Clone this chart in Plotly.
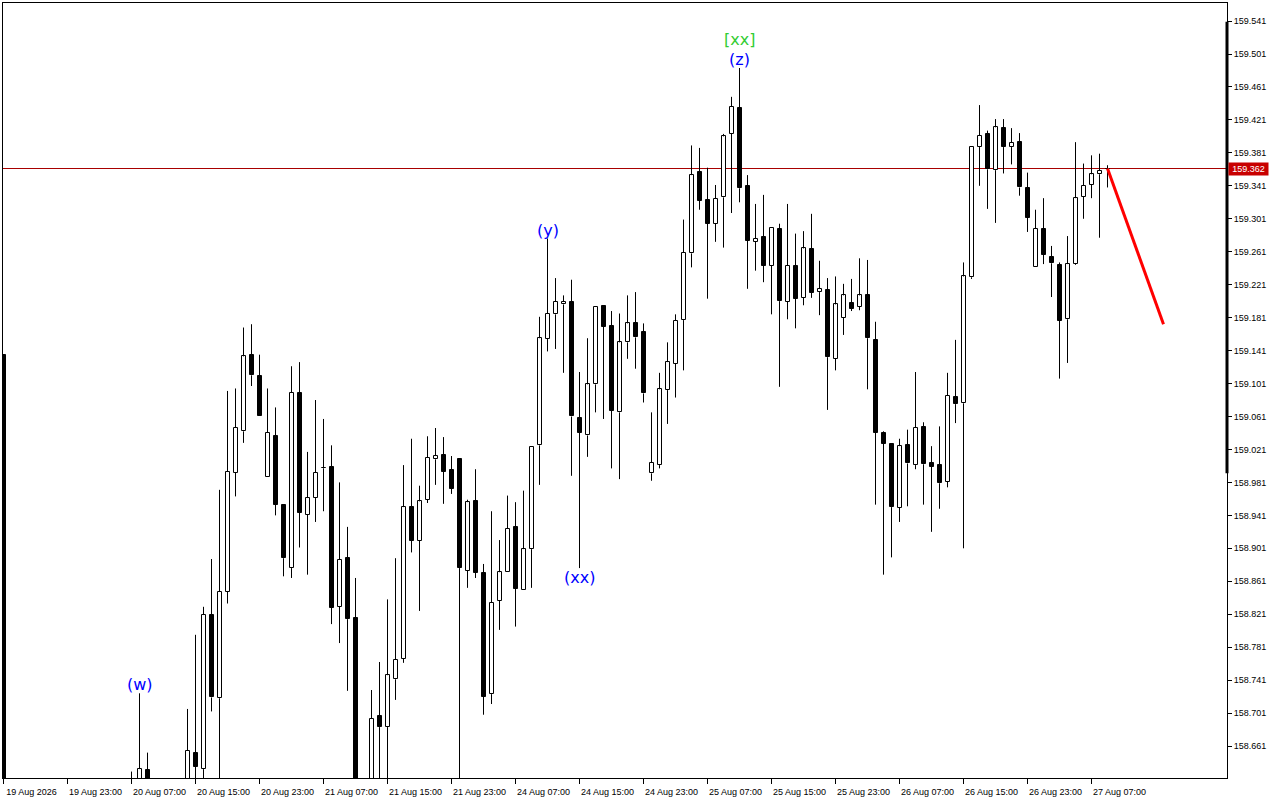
import plotly.graph_objects as go

# ---------------- data (H1 bars, index 0 = 19 Aug 15:00) ----------------
open_ = [159.136, 158.580, 158.550, 158.570, 158.560, 158.530, 158.550, 158.580, 158.560, 158.540,
         158.560, 158.590, 158.570, 158.580, 158.600, 158.590, 158.600, 158.610, 158.632, 158.605,
         158.590, 158.600, 158.595, 158.605, 158.653, 158.633, 158.820, 158.719, 158.848, 158.993,
         159.043, 159.136, 159.110, 158.987, 159.037, 158.954, 158.877, 159.089, 158.942, 158.962,
         158.998, 159.000, 158.830, 158.889, 158.816, 158.600, 158.590, 158.697, 158.684, 158.742,
         158.767, 158.951, 158.910, 158.960, 159.009, 159.014, 158.996, 159.009, 158.874, 158.958,
         158.871, 158.724, 158.837, 158.872, 158.927, 158.850, 158.900, 159.026, 159.155, 159.185,
         159.197, 159.200, 159.059, 159.038, 159.100, 159.195, 159.171, 159.066, 159.151, 159.175,
         159.164, 158.992, 159.002, 159.093, 159.125, 159.178, 159.259, 159.358, 159.324, 159.295,
         159.327, 159.404, 159.435, 159.341, 159.273, 159.279, 159.244, 159.289, 159.200, 159.244,
         159.205, 159.264, 159.212, 159.214, 159.131, 159.181, 159.199, 159.194, 159.208, 159.154,
         159.041, 159.028, 158.950, 159.027, 159.002, 159.048, 159.004, 159.002, 158.982, 159.085,
         159.077, 159.230, 159.388, 159.404, 159.360, 159.411, 159.388, 159.394, 159.338, 159.243,
         159.288, 159.254, 159.245, 159.179, 159.246, 159.328, 159.342, 159.355, 159.361]
high = [159.136, 158.600, 158.590, 158.600, 158.580, 158.570, 158.590, 158.600, 158.580, 158.570,
        158.600, 158.610, 158.600, 158.610, 158.615, 158.610, 158.630, 158.725, 158.653, 158.615,
        158.610, 158.615, 158.615, 158.706, 158.796, 158.830, 158.888, 158.972, 159.092, 159.095,
        159.169, 159.173, 159.136, 159.095, 159.072, 158.954, 159.122, 159.127, 159.018, 159.081,
        159.058, 159.026, 158.981, 158.927, 158.865, 158.615, 158.729, 158.763, 158.839, 158.889,
        159.002, 159.034, 158.977, 159.037, 159.047, 159.036, 159.013, 159.009, 158.960, 158.997,
        158.882, 158.946, 158.911, 158.965, 158.957, 158.971, 159.024, 159.182, 159.277, 159.229,
        159.208, 159.227, 159.115, 159.156, 159.194, 159.195, 159.189, 159.186, 159.208, 159.212,
        159.174, 159.066, 159.114, 159.151, 159.185, 159.300, 159.390, 159.387, 159.363, 159.342,
        159.404, 159.449, 159.484, 159.354, 159.319, 159.330, 159.291, 159.295, 159.319, 159.283,
        159.286, 159.307, 159.250, 159.229, 159.231, 159.222, 159.228, 159.253, 159.251, 159.176,
        159.043, 159.028, 159.034, 159.045, 159.115, 159.054, 159.025, 159.049, 159.114, 159.154,
        159.248, 159.388, 159.439, 159.408, 159.422, 159.422, 159.411, 159.405, 159.357, 159.312,
        159.326, 159.268, 159.248, 159.280, 159.394, 159.368, 159.378, 159.380, 159.366]
low = [158.550, 158.520, 158.530, 158.540, 158.510, 158.500, 158.540, 158.550, 158.520, 158.520,
       158.550, 158.560, 158.550, 158.560, 158.580, 158.570, 158.580, 158.600, 158.590, 158.580,
       158.570, 158.580, 158.585, 158.595, 158.600, 158.600, 158.703, 158.610, 158.834, 158.964,
       159.029, 159.098, 159.061, 158.987, 158.941, 158.867, 158.865, 158.902, 158.869, 158.933,
       158.946, 158.809, 158.786, 158.728, 158.590, 158.570, 158.580, 158.610, 158.615, 158.717,
       158.762, 158.896, 158.825, 158.956, 158.978, 158.955, 158.967, 158.610, 158.853, 158.865,
       158.699, 158.712, 158.802, 158.872, 158.806, 158.850, 158.853, 158.978, 159.140, 159.143,
       159.114, 158.989, 158.877, 159.012, 159.066, 159.058, 158.998, 158.985, 159.131, 159.119,
       159.078, 158.983, 158.998, 159.052, 159.084, 159.117, 159.242, 159.312, 159.204, 159.273,
       159.266, 159.308, 159.321, 159.216, 159.238, 159.224, 159.185, 159.097, 159.179, 159.168,
       159.196, 159.205, 159.184, 159.069, 159.117, 159.160, 159.189, 159.190, 159.094, 158.954,
       158.869, 158.890, 158.933, 158.952, 158.997, 158.954, 158.921, 158.949, 158.975, 159.053,
       158.901, 159.228, 159.341, 159.313, 159.296, 159.356, 159.367, 159.329, 159.285, 159.243,
       159.246, 159.206, 159.107, 159.126, 159.245, 159.301, 159.326, 159.278, 159.339]
close = [158.580, 158.550, 158.570, 158.560, 158.530, 158.550, 158.580, 158.560, 158.540, 158.560,
         158.590, 158.570, 158.580, 158.600, 158.590, 158.600, 158.610, 158.633, 158.605, 158.590,
         158.600, 158.595, 158.605, 158.655, 158.636, 158.820, 158.720, 158.848, 158.994, 159.047,
         159.134, 159.111, 159.061, 159.041, 158.954, 158.889, 159.090, 158.944, 158.962, 158.993,
         158.998, 158.829, 158.887, 158.815, 158.600, 158.590, 158.694, 158.684, 158.747, 158.766,
         158.951, 158.910, 158.958, 159.011, 159.013, 158.994, 158.973, 158.877, 158.957, 158.871,
         158.721, 158.835, 158.872, 158.925, 158.852, 158.900, 159.024, 159.156, 159.186, 159.200,
         159.200, 159.061, 159.041, 159.100, 159.194, 159.170, 159.068, 159.151, 159.174, 159.157,
         159.089, 159.005, 159.094, 159.127, 159.177, 159.260, 159.354, 159.323, 159.295, 159.325,
         159.401, 159.437, 159.338, 159.274, 159.277, 159.244, 159.290, 159.201, 159.244, 159.204,
         159.265, 159.211, 159.216, 159.133, 159.197, 159.208, 159.192, 159.208, 159.156, 159.041,
         159.028, 158.951, 159.025, 159.004, 159.047, 159.003, 159.000, 158.980, 159.086, 159.076,
         159.231, 159.388, 159.402, 159.361, 159.412, 159.388, 159.393, 159.339, 159.302, 159.289,
         159.257, 159.247, 159.177, 159.246, 159.326, 159.341, 159.355, 159.359, 159.362]

tick_pos = [0, 8, 16, 24, 32, 40, 48, 56, 64, 72, 80, 88, 96, 104, 112, 120, 128, 136]
tick_text = ["19 Aug 2026", "19 Aug 23:00", "20 Aug 07:00", "20 Aug 15:00", "20 Aug 23:00",
             "21 Aug 07:00", "21 Aug 15:00", "21 Aug 23:00", "24 Aug 07:00", "24 Aug 15:00",
             "24 Aug 23:00", "25 Aug 07:00", "25 Aug 15:00", "25 Aug 23:00", "26 Aug 07:00",
             "26 Aug 15:00", "26 Aug 23:00", "27 Aug 07:00"]
price_ticks = [158.661, 158.701, 158.741, 158.781, 158.821, 158.861, 158.901, 158.941, 158.981,
               159.021, 159.061, 159.101, 159.141, 159.181, 159.221, 159.261, 159.301, 159.341,
               159.381, 159.421, 159.461, 159.501, 159.541]
current_price = 159.362

wave_text = ["(w)", "(y)", "(xx)", "(z)", "[xx]"]
wave_bar = [17, 68, 72, 92, 92]
wave_pos = ["above", "above", "below", "above", "above2"]
wave_color = ["#0000ff", "#0000ff", "#0000ff", "#0000ff", "#32cd32"]

proj_x = [138, 145]
proj_y = [159.362, 159.173]

edge_marker_y = [159.540, 158.992]

# ---------------- figure ----------------
n = len(open_)
idx = list(range(n))

wx, wy = [], []
for i in idx:
    top = max(open_[i], close[i])
    bot = min(open_[i], close[i])
    wx += [i, i, None, i, i, None]
    wy += [top, max(high[i], top), None, min(low[i], bot), bot, None]

up_x, up_base, up_h, dn_x, dn_base, dn_h = [], [], [], [], [], []
for i in idx:
    h = abs(close[i] - open_[i])
    h = max(h, 0.0004)
    if close[i] >= open_[i]:
        up_x.append(i); up_base.append(open_[i]); up_h.append(h)
    else:
        dn_x.append(i); dn_base.append(close[i]); dn_h.append(h)

fig = go.Figure()
fig.add_trace(go.Scatter(x=wx, y=wy, mode="lines", line=dict(color="black", width=1),
                         hoverinfo="skip", showlegend=False))
fig.add_trace(go.Bar(x=up_x, y=up_h, base=up_base, width=0.5,
                     marker=dict(color="white", line=dict(color="black", width=1)),
                     showlegend=False, hoverinfo="skip"))
fig.add_trace(go.Bar(x=dn_x, y=dn_h, base=dn_base, width=0.5,
                     marker=dict(color="black", line=dict(color="black", width=1)),
                     showlegend=False, hoverinfo="skip"))
fig.add_trace(go.Scatter(x=proj_x, y=proj_y, mode="lines", line=dict(color="#ff0000", width=3),
                         hoverinfo="skip", showlegend=False))

# price line and right edge marker
fig.add_shape(type="line", xref="paper", x0=0, x1=1, yref="y", y0=current_price, y1=current_price,
              line=dict(color="#a80000", width=1), layer="below")
fig.add_shape(type="line", xref="paper", x0=1, x1=1, yref="y", y0=edge_marker_y[0], y1=edge_marker_y[1],
              line=dict(color="black", width=3))

fig.add_annotation(xref="paper", x=1, yref="y", y=current_price, text=f"{current_price:.3f}",
                   showarrow=False, xanchor="left", yanchor="middle", xshift=1,
                   width=37, align="center",
                   bgcolor="#c80000", borderpad=1,
                   font=dict(family="Liberation Sans", size=9, color="white"))

for t, b, p, c in zip(wave_text, wave_bar, wave_pos, wave_color):
    if p == "below":
        fig.add_annotation(x=b, y=low[b], text=t, showarrow=False, yanchor="top", yshift=2,
                           font=dict(family="DejaVu Sans", size=16, color=c))
    else:
        fig.add_annotation(x=b, y=high[b], text=t, showarrow=False, yanchor="bottom",
                           yshift=(-3 if p == "above" else 17),
                           font=dict(family="DejaVu Sans", size=16, color=c))

fig.update_layout(
    width=1280, height=800,
    margin=dict(l=3, r=53, t=3, b=22),
    paper_bgcolor="white", plot_bgcolor="white",
    barmode="overlay", bargap=0, showlegend=False,
    font=dict(family="Liberation Sans", size=9, color="black"),
)
fig.update_xaxes(range=[-0.0625, 152.9375], tickmode="array", tickvals=tick_pos, ticktext=tick_text,
                 ticks="outside", ticklen=5, tickcolor="black", ticklabelshift=28,
                 showline=True, linecolor="black", linewidth=1, mirror=True,
                 showgrid=False, zeroline=False,
                 tickfont=dict(family="Liberation Sans", size=9, color="black"))
fig.update_yaxes(range=[158.6222, 159.5629], side="right", tickmode="array", tickvals=price_ticks,
                 ticktext=[f"{v:.3f}" for v in price_ticks],
                 ticks="outside", ticklen=4, tickcolor="black",
                 showline=True, linecolor="black", linewidth=1, mirror=True,
                 showgrid=False, zeroline=False,
                 tickfont=dict(family="Liberation Sans", size=9, color="black"))

fig.write_html("out.html", config={"displayModeBar": False},
               post_script="document.body.style.margin='0px';document.body.style.overflow='hidden';")
